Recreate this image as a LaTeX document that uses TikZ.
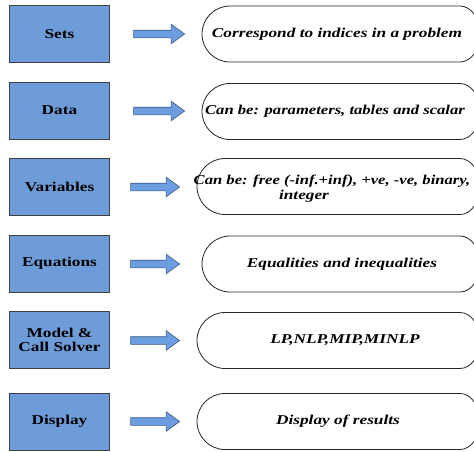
\documentclass[tikz,border=0pt]{standalone}
\usepackage{fontspec}
\usepackage{graphicx}
\setmainfont{Liberation Serif}
\newfontfamily\tnr{Liberation Serif}
\usetikzlibrary{shapes.arrows}
\definecolor{boxblue}{HTML}{6E9CD9}
\definecolor{arrblue}{HTML}{6C9DE0}
\definecolor{arrline}{HTML}{3C5A85}
\newcommand\hx[1]{\scalebox{1.28}[1]{#1}}
\newcommand\hxs[1]{\scalebox{1.23}[1]{#1}}
\newcommand\stadium[5]{%
\draw[stadline] ({#1+#4},{#3-28}) -- (#2,{#3-28})
 .. controls ({#2+0.5523*#5},{#3-28}) and ({#2+#5},{#3-0.5523*28}) .. ({#2+#5},#3)
 .. controls ({#2+#5},{#3+0.5523*28}) and ({#2+0.5523*#5},{#3+28}) .. (#2,{#3+28})
 -- ({#1+#4},{#3+28})
 .. controls ({#1+#4-0.5523*#4},{#3+28}) and (#1,{#3+0.5523*28}) .. (#1,#3)
 .. controls (#1,{#3-0.5523*28}) and ({#1+#4-0.5523*#4},{#3-28}) .. cycle;}
\tikzset{
  stadline/.style={draw=black!85, line width=0.8pt},
  bluebox/.style={draw=black!75, line width=0.8pt, fill=boxblue, minimum width=100pt, minimum height=57pt, inner sep=0pt,
     font=\tnr\fontsize{13.5}{15}\selectfont\bfseries, align=center},
  blockarrow/.style={single arrow, draw=arrline, fill=arrblue, line width=0.6pt, minimum width=19pt,
     single arrow head extend=6pt, single arrow tip angle=72, single arrow head indent=0pt, inner sep=0pt},
  desc/.style={inner sep=0pt, font=\tnr\fontsize{13.5}{15}\selectfont\bfseries\itshape}
}
\newcommand\shaft{\rule{0pt}{7pt}}
\begin{document}
\begin{tikzpicture}[x=1pt,y=-1pt]
\useasboundingbox (0,0) rectangle (474,451);
\clip (0,0) rectangle (474,451);
\fill[white] (0,0) rectangle (474,451);
% boxes
\node[bluebox] (b1) at (59.5,34) {\hx{Sets}};
\node[bluebox] (b2) at (59.5,110.5) {\hx{Data}};
\node[bluebox] (b3) at (59.5,187) {\hx{Variables}};
\node[bluebox] (b4) at (59.5,263.5) {\hx{Equations}};
\node[bluebox] (b5) at (59.5,340) {\hx{Model \&}\\[-1pt]\hx{Call Solver}};
\node[bluebox] (b6) at (59.5,421.5) {\hx{Display}};
% arrows
\node[blockarrow, minimum height=51pt] (a1) at (156.5,34) {\shaft};
\node[blockarrow, minimum height=51pt] (a2) at (156.5,111) {\shaft};
\node[blockarrow, minimum height=49pt] (a3) at (152.5,187) {\shaft};
\node[blockarrow, minimum height=49pt] (a4) at (152.5,264) {\shaft};
\node[blockarrow, minimum height=49pt] (a5) at (152.5,340.5) {\shaft};
\node[blockarrow, minimum height=49pt] (a6) at (152.5,421.5) {\shaft};
% stadiums
\stadium{202}{460}{34}{28}{20}
\stadium{202}{460}{111.5}{28}{20}
\stadium{197}{460}{186.5}{28}{20}
\stadium{202}{460}{264}{28}{20}
\stadium{197}{460}{340.5}{28}{20}
\stadium{197}{460}{421.5}{28}{20}
% texts
\node[desc] (t1) at (337,34) {\hx{Correspond to indices in a problem}};
\node[desc] (t2) at (335,111.5) {\hxs{Can be: parameters, tables and scalar}};
\node[desc] (t3a) at (332,181) {\hxs{Can be: free (-inf.+inf), +ve, -ve, binary,}};
\node[desc] (t3b) at (304,196) {\hx{integer}};
\node[desc] (t4) at (342,264) {\hx{Equalities and inequalities}};
\node[desc] (t5) at (345,340.5) {\hx{LP,NLP,MIP,MINLP}};
\node[desc] (t6) at (338,421.5) {\hx{Display of results}};
\end{tikzpicture}
\end{document}
